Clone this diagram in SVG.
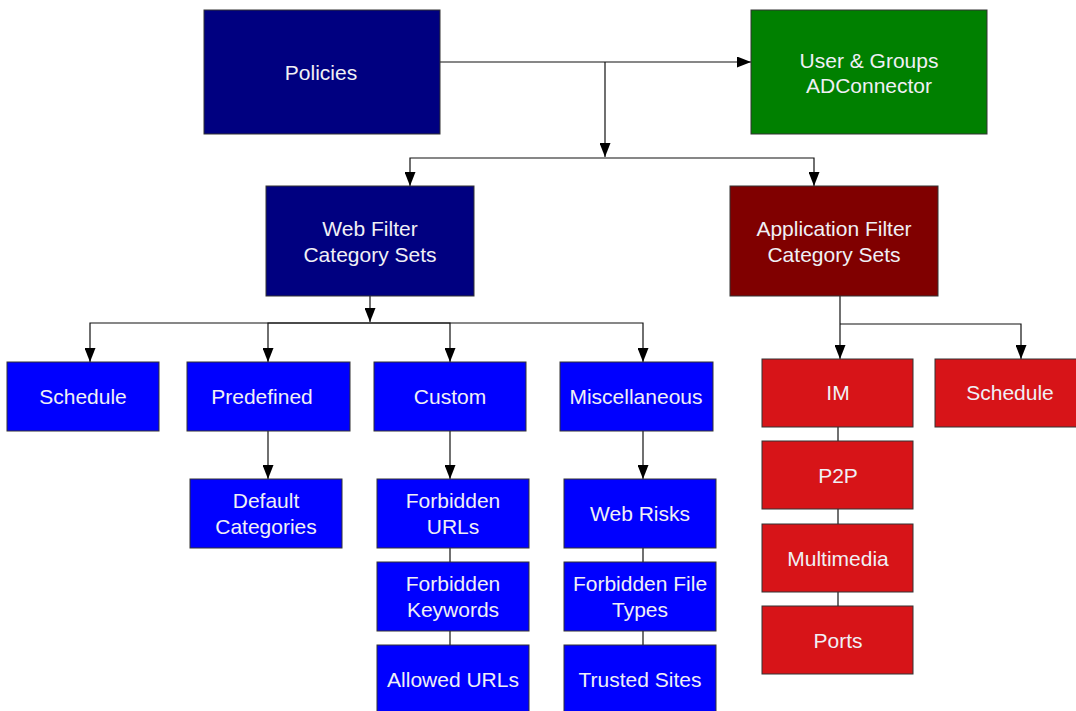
<svg xmlns="http://www.w3.org/2000/svg" width="1076" height="711" viewBox="0 0 1076 711">
<defs>
<marker id="arr" markerWidth="14" markerHeight="11" refX="14" refY="5.5" orient="auto" markerUnits="userSpaceOnUse">
<path d="M0,0 L14,5.5 L0,11 Z" fill="#000"/>
</marker>
<style>
.n rect{stroke:#333;stroke-width:1}
.navy rect{fill:#000080}
.green rect{fill:#008000}
.maroon rect{fill:#800000}
.blue rect{fill:#0000FF}
.red rect{fill:#D71418}
text{font-family:"Liberation Sans",Arial,sans-serif;font-size:21px;fill:#F0F0F5;text-anchor:middle;dominant-baseline:central}
.c line,.c path{stroke:#111;stroke-width:1.2;fill:none}
.c .a{marker-end:url(#arr)}
</style>
</defs>
<rect width="1076" height="711" fill="#fff"/>
<g class="c" id="connectors">
<line class="a" x1="440" y1="62" x2="751" y2="62"/>
<line class="a" x1="605" y1="62" x2="605" y2="157"/>
<path class="a" d="M605,158 H410 V186"/>
<path class="a" d="M605,158 H814 V186"/>
<line class="a" x1="370" y1="296" x2="370" y2="322"/>
<path class="a" d="M370,323 H90 V362"/>
<path class="a" d="M370,323 H268 V362"/>
<path class="a" d="M370,323 H450 V362"/>
<path class="a" d="M370,323 H643 V362"/>
<line class="a" x1="268" y1="431" x2="268" y2="479"/>
<line class="a" x1="450" y1="431" x2="450" y2="479"/>
<line class="a" x1="643" y1="431" x2="643" y2="479"/>
<line x1="450" y1="548" x2="450" y2="645"/>
<line x1="643" y1="548" x2="643" y2="645"/>
<line class="a" x1="840" y1="296" x2="840" y2="359"/>
<path class="a" d="M840,324 H1021 V359"/>
<line x1="838" y1="427" x2="838" y2="606"/>
</g>
<g id="policies" class="n navy"><rect x="204" y="10" width="236" height="124"/><text x="321" y="72">Policies</text></g>
<g id="users" class="n green"><rect x="751" y="10" width="236" height="124"/><text x="869" y="60">User &amp; Groups</text><text x="869" y="85">ADConnector</text></g>
<g id="webfilter" class="n navy"><rect x="266" y="186" width="208" height="110"/><text x="370" y="228">Web Filter</text><text x="370" y="254">Category Sets</text></g>
<g id="appfilter" class="n maroon"><rect x="730" y="186" width="208" height="110"/><text x="834" y="228">Application Filter</text><text x="834" y="254">Category Sets</text></g>
<g id="schedule-web" class="n blue"><rect x="7" y="362" width="152" height="69"/><text x="83" y="396">Schedule</text></g>
<g id="predefined" class="n blue"><rect x="187" y="362" width="163" height="69"/><text x="262" y="396">Predefined</text></g>
<g id="custom" class="n blue"><rect x="374" y="362" width="152" height="69"/><text x="450" y="396">Custom</text></g>
<g id="misc" class="n blue"><rect x="560" y="362" width="153" height="69"/><text x="636" y="396">Miscellaneous</text></g>
<g id="default-cat" class="n blue"><rect x="190" y="479" width="152" height="69"/><text x="266" y="500">Default</text><text x="266" y="526">Categories</text></g>
<g id="forbidden-urls" class="n blue"><rect x="377" y="479" width="152" height="69"/><text x="453" y="500">Forbidden</text><text x="453" y="526">URLs</text></g>
<g id="forbidden-kw" class="n blue"><rect x="377" y="562" width="152" height="69"/><text x="453" y="583">Forbidden</text><text x="453" y="609">Keywords</text></g>
<g id="allowed-urls" class="n blue"><rect x="377" y="645" width="152" height="70"/><text x="453" y="679">Allowed URLs</text></g>
<g id="web-risks" class="n blue"><rect x="564" y="479" width="152" height="69"/><text x="640" y="513">Web Risks</text></g>
<g id="forbidden-ft" class="n blue"><rect x="564" y="562" width="152" height="69"/><text x="640" y="583">Forbidden File</text><text x="640" y="609">Types</text></g>
<g id="trusted" class="n blue"><rect x="564" y="645" width="152" height="70"/><text x="640" y="679">Trusted Sites</text></g>
<g id="im" class="n red"><rect x="762" y="359" width="151" height="68"/><text x="838" y="392">IM</text></g>
<g id="schedule-app" class="n red"><rect x="935" y="359" width="145" height="68"/><text x="1010" y="392">Schedule</text></g>
<g id="p2p" class="n red"><rect x="762" y="441" width="151" height="68"/><text x="838" y="475">P2P</text></g>
<g id="multimedia" class="n red"><rect x="762" y="524" width="151" height="68"/><text x="838" y="558">Multimedia</text></g>
<g id="ports" class="n red"><rect x="762" y="606" width="151" height="68"/><text x="838" y="640">Ports</text></g>
</svg>
